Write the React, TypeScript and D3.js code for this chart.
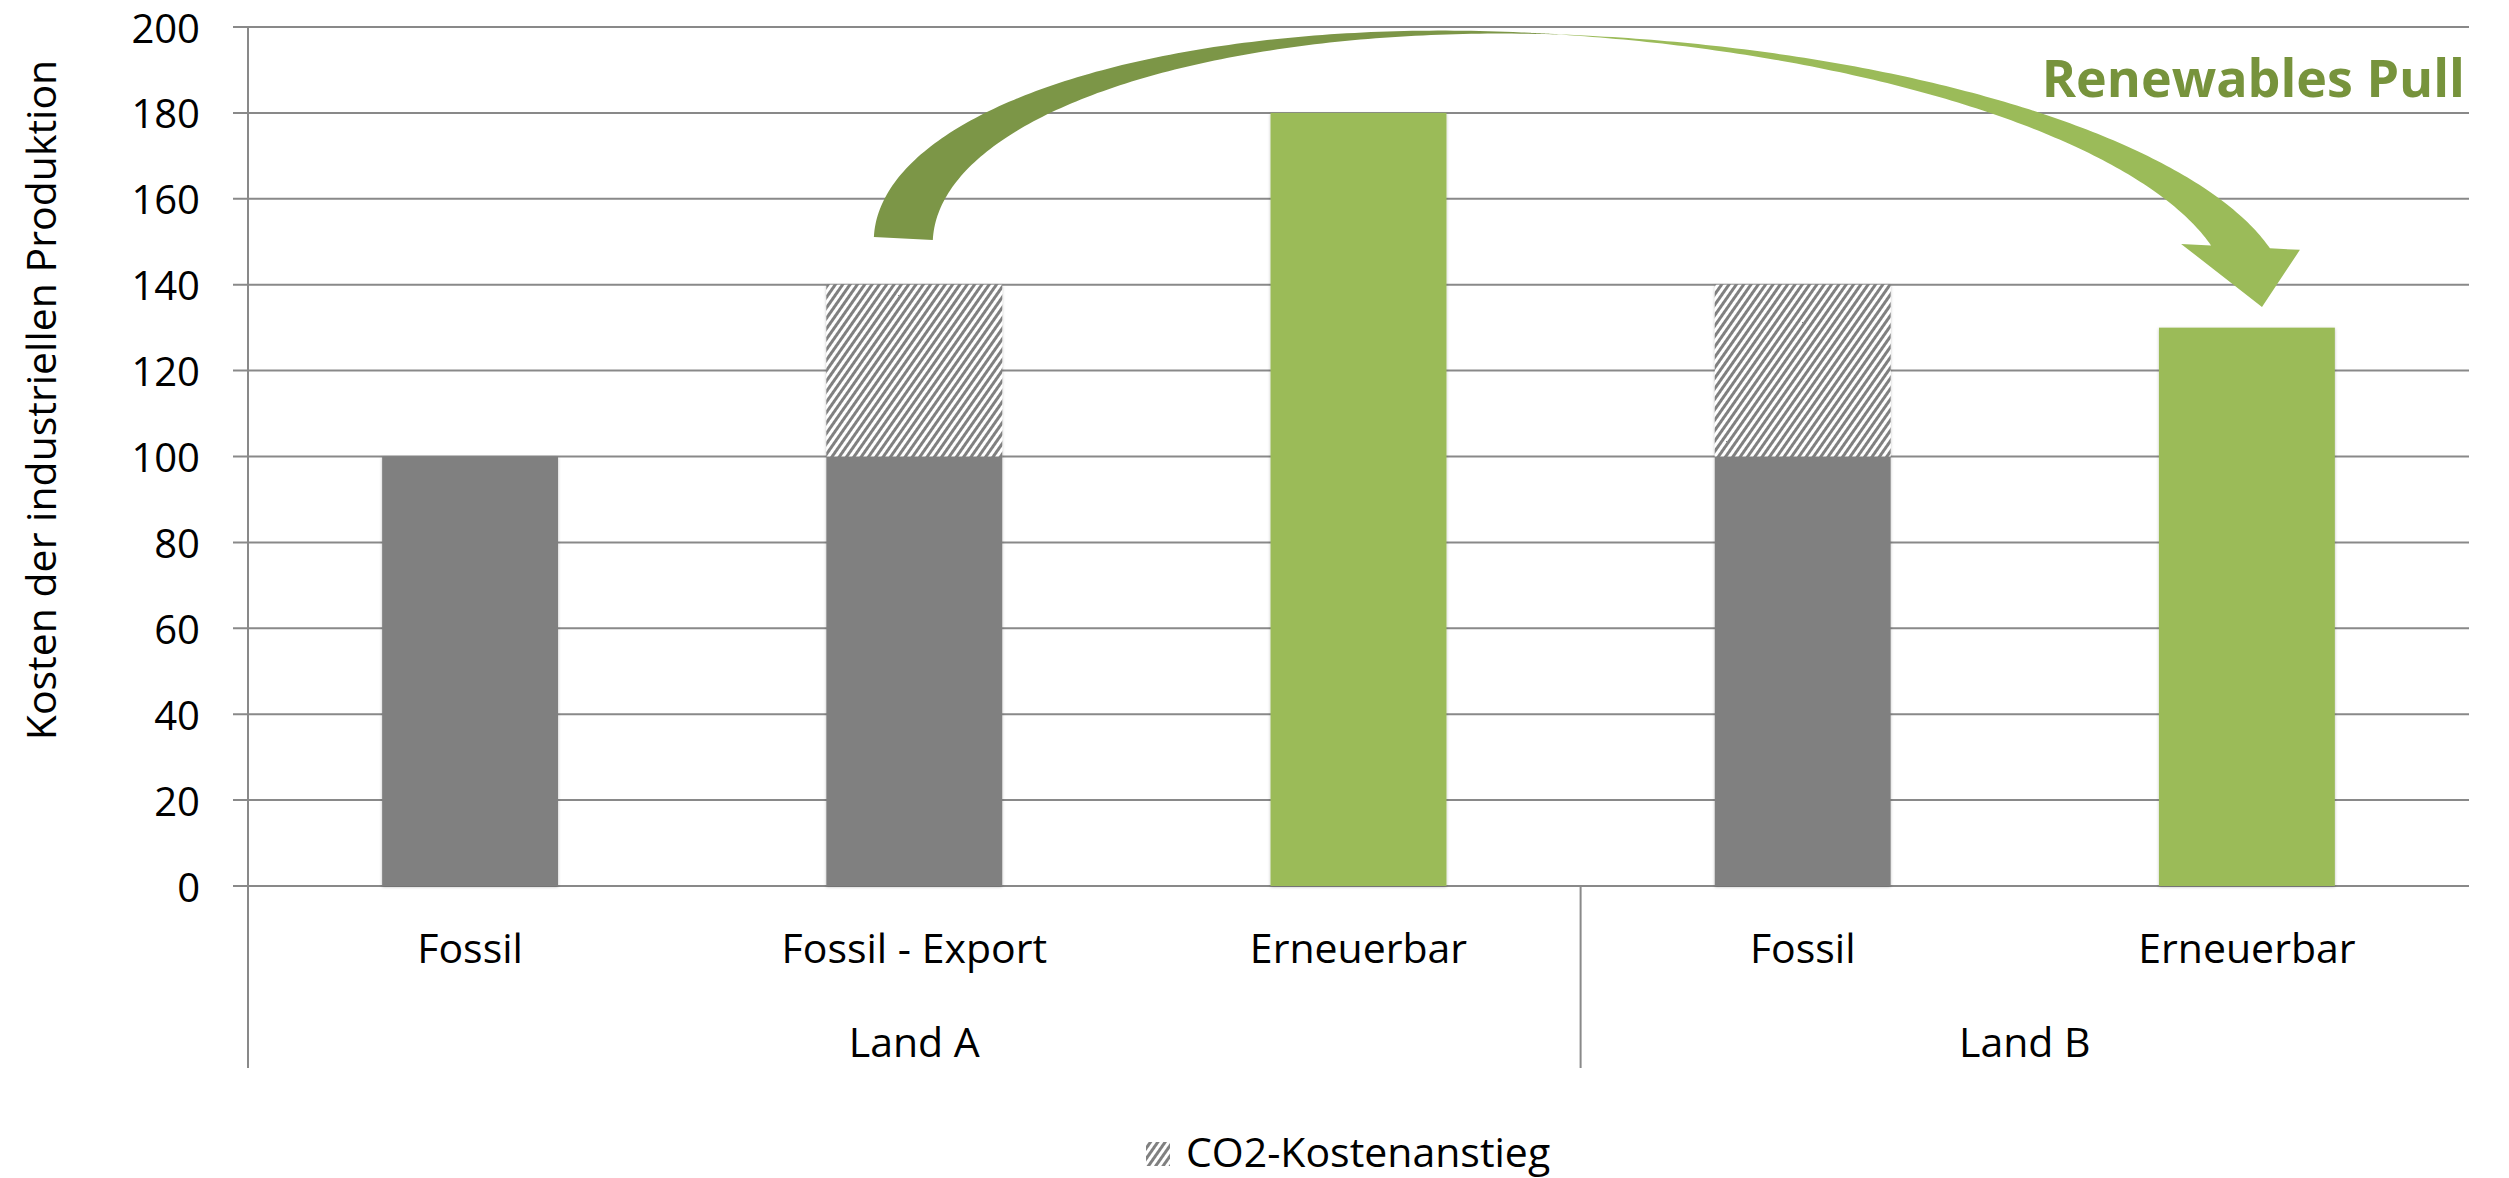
import React from "react";
import * as d3 from "d3";

// ---- data ----
const categories = ["Fossil", "Fossil - Export", "Erneuerbar", "Fossil", "Erneuerbar"];
const groupLabels = ["Land A", "Land B"];
const groupSpans = [3, 2];
const fossilCost = [100, 100, 0, 100, 0];
const co2Increase = [0, 40, 0, 40, 0];
const renewableCost = [0, 0, 180, 0, 130];
const yTicks = [0, 20, 40, 60, 80, 100, 120, 140, 160, 180, 200];
const yTitle = "Kosten der industriellen Produktion";
const legendLabel = "CO2-Kostenanstieg";
const annotationLabel = "Renewables Pull";

// curved arrow anchors, in (category slot, value) units
const arrowTail: [number, number] = [1.409, 151.1];
const arrowTip: [number, number] = [4.534, 134.8];
// curved arrow shape, in pixels along / across the tail-tip axis
const arrowBand = 59; // band thickness
const arrowRise = 237; // arc height above the axis
const arrowCrest = 645; // distance from tail to the crest
const arrowNeckBack = 54; // neck (inner side) sits this far before the tip
const arrowHeadLen = 59; // barb height above the tip
const arrowBarbOut = 30; // barb overhang beyond the band

const W = 2509;
const H = 1178;
const plotLeft = 248;
const plotRight = 2469;
const plotTop = 27;
const plotBottom = 886;
const axisBottom = 1068;

const FONT = "'Open Sans', 'Noto Sans', sans-serif";
const GRID = "#898989";
const GREY = "#808080";
const GREEN = "#9BBB59";
const GREEN_DARK = "#7C9647";
const TITLE_GREEN = "#77933C";

function buildArrow(T: [number, number], P: [number, number]) {
  const ang = Math.atan2(P[1] - T[1], P[0] - T[0]);
  const L = Math.hypot(P[0] - T[0], P[1] - T[1]);
  const c = Math.cos(ang);
  const s = Math.sin(ang);
  const at = (u: number, v: number): [number, number] => [T[0] + u * c + v * s, T[1] + u * s - v * c];

  const p = arrowCrest;
  const h = arrowRise;
  const band = arrowBand;
  const neckL = L - arrowNeckBack;
  const tEnd = Math.asin(arrowHeadLen / h);
  const q = (neckL - p) / Math.cos(tEnd);
  const tX = Math.acos(band / (p + q));
  const N = 120;

  const leftQ = (t: number, du: number) => at(du + p - p * Math.cos(t), h * Math.sin(t));
  const rightQ = (t: number, du: number) => at(du + p + q * Math.cos(t), h * Math.sin(t));

  // back face: outer left quarter up over the crest to the crossing, then inner side back down
  const back: [number, number][] = [];
  for (let i = 0; i <= N; i++) back.push(leftQ((Math.PI / 2) * (i / N), 0));
  for (let i = 0; i <= N; i++) back.push(rightQ(Math.PI / 2 - (Math.PI / 2 - tX) * (i / N), 0));
  for (let i = 0; i <= N; i++) back.push(leftQ(tX - tX * (i / N), band));

  // front face with the arrow head
  const front: [number, number][] = [];
  front.push(at(L, 0));
  front.push(at(neckL - arrowBarbOut, arrowHeadLen));
  for (let i = 0; i <= N; i++) front.push(rightQ(tEnd + (Math.PI / 2 - tEnd) * (i / N), 0));
  for (let i = 0; i <= N; i++) front.push(rightQ(Math.PI / 2 - (Math.PI / 2 - tEnd) * (i / N), band));
  front.push(at(neckL + band + arrowBarbOut, arrowHeadLen));

  const line = d3.line<[number, number]>();
  return { back: (line(back) as string) + "Z", front: (line(front) as string) + "Z" };
}

export default function App() {
  const idx = categories.map((_, i) => String(i));
  const x = d3
    .scaleBand<string>()
    .domain(idx)
    .range([plotLeft, plotRight])
    .paddingInner(0.604)
    .paddingOuter(0.302);
  const slot = d3.scaleLinear().domain([0, categories.length]).range([plotLeft, plotRight]);
  const y = d3.scaleLinear().domain([0, 200]).range([plotBottom, plotTop]);

  const groupEdges: number[] = [0];
  groupSpans.forEach((s) => groupEdges.push(groupEdges[groupEdges.length - 1] + s));

  const arrow = buildArrow(
    [slot(arrowTail[0]), y(arrowTail[1])],
    [slot(arrowTip[0]), y(arrowTip[1])]
  );

  const bw = x.bandwidth();

  return (
    <div style={{ position: "absolute", left: 0, top: 0 }}>
      <svg width={W} height={H} style={{ display: "block", background: "#fff" }}>
        <defs>
          <pattern
            id="hatch"
            patternUnits="userSpaceOnUse"
            width={6}
            height={6}
            patternTransform="rotate(35)"
          >
            <rect width={6} height={6} fill="#ffffff" />
            <rect width={3} height={6} fill={GREY} />
          </pattern>
          <filter id="barShadow" x="-10%" y="-10%" width="120%" height="120%">
            <feDropShadow dx="0" dy="1" stdDeviation="1.5" floodColor="#000" floodOpacity="0.25" />
          </filter>
        </defs>

        {/* gridlines with outside tick marks */}
        {yTicks.map((t) => (
          <line
            key={"g" + t}
            x1={plotLeft - 15}
            x2={plotRight}
            y1={y(t)}
            y2={y(t)}
            stroke={GRID}
            strokeWidth={2}
          />
        ))}
        {yTicks.map((t) => (
          <text
            key={"t" + t}
            x={200}
            y={y(t)}
            textAnchor="end"
            dominantBaseline="central"
            fontFamily={FONT}
            fontSize={40}
            fill="#000"
          >
            {t}
          </text>
        ))}

        {/* vertical axis and category group dividers */}
        <line x1={plotLeft} x2={plotLeft} y1={plotTop} y2={axisBottom} stroke={GRID} strokeWidth={2} />
        {groupEdges.slice(1, -1).map((g) => (
          <line key={"d" + g} x1={slot(g)} x2={slot(g)} y1={plotBottom} y2={axisBottom} stroke={GRID} strokeWidth={2} />
        ))}

        {/* bars */}
        <g filter="url(#barShadow)">
          {categories.map((c, i) => {
            const x0 = x(String(i)) as number;
            return (
              <g key={"b" + i}>
                {fossilCost[i] > 0 && (
                  <rect x={x0} y={y(fossilCost[i])} width={bw} height={y(0) - y(fossilCost[i])} fill={GREY} />
                )}
                {co2Increase[i] > 0 && (
                  <rect
                    x={x0}
                    y={y(fossilCost[i] + co2Increase[i])}
                    width={bw}
                    height={y(fossilCost[i]) - y(fossilCost[i] + co2Increase[i])}
                    fill="url(#hatch)"
                  />
                )}
                {renewableCost[i] > 0 && (
                  <rect x={x0} y={y(renewableCost[i])} width={bw} height={y(0) - y(renewableCost[i])} fill={GREEN} />
                )}
              </g>
            );
          })}
        </g>

        {/* category labels */}
        {categories.map((c, i) => (
          <text
            key={"c" + i}
            x={(x(String(i)) as number) + bw / 2}
            y={963}
            textAnchor="middle"
            fontFamily={FONT}
            fontSize={41}
            fill="#000"
          >
            {c}
          </text>
        ))}
        {groupLabels.map((g, i) => (
          <text
            key={"gl" + i}
            x={slot((groupEdges[i] + groupEdges[i + 1]) / 2)}
            y={1057}
            textAnchor="middle"
            fontFamily={FONT}
            fontSize={41}
            fill="#000"
          >
            {g}
          </text>
        ))}

        {/* y axis title */}
        <text
          transform={`translate(40,400) rotate(-90)`}
          textAnchor="middle"
          dominantBaseline="central"
          fontFamily={FONT}
          fontSize={41}
          fill="#000"
        >
          {yTitle}
        </text>

        {/* curved arrow */}
        <path d={arrow.front} fill={GREEN} />
        <path d={arrow.back} fill={GREEN_DARK} />

        <text
          x={2465}
          y={97}
          textAnchor="end"
          fontFamily={FONT}
          fontWeight="bold"
          fontSize={52}
          fill={TITLE_GREEN}
        >
          {annotationLabel}
        </text>

        {/* legend */}
        <rect x={1146} y={1142} width={24} height={24} fill="url(#hatch)" />
        <text x={1186} y={1167} fontFamily={FONT} fontSize={41} fill="#000">
          {legendLabel}
        </text>
      </svg>
    </div>
  );
}
